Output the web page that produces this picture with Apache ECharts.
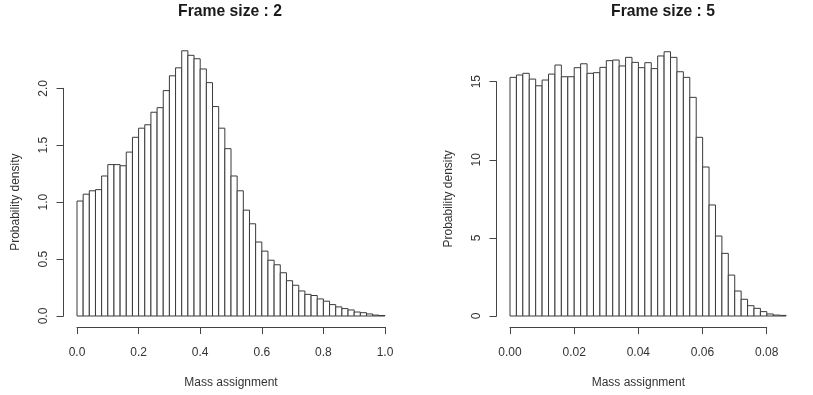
<!DOCTYPE html>
<html>
<head>
<meta charset="utf-8">
<script src="https://cdn.jsdelivr.net/npm/echarts@6/dist/echarts.min.js"></script>
<style>
html,body{margin:0;padding:0;background:#fff;}
#chart{width:813px;height:395px;}
</style>
</head>
<body>
<div id="chart"></div>
<script>
// ---- Data ----
var titles = ['Frame size : 2', 'Frame size : 5'];
var xAxisTitle = 'Mass assignment';
var yAxisTitle = 'Probability density';

// Left histogram: bins of width 0.02 from 0 to 1
var leftBinStart = 0;
var leftBinWidth = 0.02;
var leftDensity = [
  1.01, 1.07, 1.10, 1.11, 1.23, 1.33, 1.33, 1.32, 1.44, 1.57,
  1.65, 1.68, 1.79, 1.83, 1.98, 2.11, 2.18, 2.33, 2.29, 2.26,
  2.17, 2.05, 1.84, 1.65, 1.47, 1.23, 1.10, 0.93, 0.81, 0.65,
  0.57, 0.49, 0.45, 0.38, 0.31, 0.27, 0.22, 0.19, 0.18, 0.15,
  0.13, 0.10, 0.08, 0.065, 0.053, 0.035, 0.029, 0.018, 0.008, 0.004
];
var leftXTicks = ['0.0', '0.2', '0.4', '0.6', '0.8', '1.0'];
var leftYTicks = ['0.0', '0.5', '1.0', '1.5', '2.0'];

// Right histogram: bins of width 0.002 from 0 to 0.086
var rightBinStart = 0;
var rightBinWidth = 0.002;
var rightDensity = [
  15.28, 15.43, 15.54, 15.17, 14.74, 15.11, 15.49, 16.07, 15.32, 15.32,
  15.90, 16.15, 15.54, 15.58, 15.92, 16.35, 16.39, 16.01, 16.56, 16.24,
  15.90, 16.22, 15.84, 16.65, 16.92, 16.56, 15.64, 15.28, 14.00, 11.44,
  9.54, 7.11, 5.12, 4.01, 2.62, 1.60, 1.07, 0.66, 0.49, 0.28,
  0.13, 0.06, 0.04
];
var rightXTicks = ['0.00', '0.02', '0.04', '0.06', '0.08'];
var rightYTicks = ['0', '5', '10', '15'];

function toBins(start, width, dens) {
  return dens.map(function (d, i) {
    return [start + i * width, start + (i + 1) * width, d];
  });
}

var FONT = 'Liberation Sans, Arial, sans-serif';
var AXIS_COLOR = '#444';
var TEXT_COLOR = '#333';

function renderBar(params, api) {
  var p0 = api.coord([api.value(0), api.value(2)]);
  var p1 = api.coord([api.value(1), 0]);
  return {
    type: 'rect',
    shape: { x: p0[0], y: p0[1], width: p1[0] - p0[0], height: p1[1] - p0[1] },
    style: { fill: '#fff', stroke: '#3a3a3a', lineWidth: 1 }
  };
}

function shownXAxis(gridIndex, max, interval, labels) {
  return {
    gridIndex: gridIndex, type: 'value', min: 0, max: max, interval: interval,
    offset: 11, position: 'bottom',
    axisLine: { show: true, onZero: false, lineStyle: { color: AXIS_COLOR, width: 1 } },
    axisTick: { show: true, length: 7, lineStyle: { color: AXIS_COLOR } },
    axisLabel: {
      margin: 20, color: TEXT_COLOR, fontSize: 12, fontFamily: FONT,
      formatter: function (v, i) { return labels[i]; }
    },
    splitLine: { show: false },
    name: xAxisTitle, nameLocation: 'middle', nameGap: 50,
    nameTextStyle: { color: TEXT_COLOR, fontSize: 12, fontFamily: FONT }
  };
}

function shownYAxis(gridIndex, max, interval, labels) {
  return {
    gridIndex: gridIndex, type: 'value', min: 0, max: max, interval: interval,
    offset: 13.5, position: 'left',
    axisLine: { show: true, onZero: false, lineStyle: { color: AXIS_COLOR, width: 1 } },
    axisTick: { show: true, length: 7, lineStyle: { color: AXIS_COLOR } },
    axisLabel: {
      margin: 14, rotate: 90, color: TEXT_COLOR, fontSize: 12, fontFamily: FONT,
      formatter: function (v, i) { return labels[i]; }
    },
    splitLine: { show: false },
    name: yAxisTitle, nameLocation: 'middle', nameGap: 42, nameRotate: 90,
    nameTextStyle: { color: TEXT_COLOR, fontSize: 12, fontFamily: FONT }
  };
}

function hiddenAxis(gridIndex, max) {
  return { gridIndex: gridIndex, type: 'value', min: 0, max: max, show: false, splitLine: { show: false } };
}

var chart = echarts.init(document.getElementById('chart'), null, { renderer: 'canvas' });

var option = {
  animation: false,
  backgroundColor: '#fff',
  title: [
    { text: titles[0], left: 230, top: 4, padding: 0, textAlign: 'center',
      textStyle: { fontSize: 15.7, fontWeight: 'bold', color: '#1a1a1a', fontFamily: FONT } },
    { text: titles[1], left: 663, top: 4, padding: 0, textAlign: 'center',
      textStyle: { fontSize: 15.7, fontWeight: 'bold', color: '#1a1a1a', fontFamily: FONT } }
  ],
  grid: [
    // left data grid
    { left: 77, right: 428, top: 42.8, bottom: 79 },
    // left axis grid
    { left: 77, right: 428, top: 88.3, bottom: 79 },
    // right data grid
    { left: 510, right: 26.9, top: 50.5, bottom: 79 },
    // right axis grid
    { left: 510, right: 46.3, top: 81.7, bottom: 79 }
  ],
  xAxis: [
    hiddenAxis(0, leftBinStart + leftDensity.length * leftBinWidth),
    shownXAxis(1, 1.0, 0.2, leftXTicks),
    hiddenAxis(2, rightBinStart + rightDensity.length * rightBinWidth),
    shownXAxis(3, 0.08, 0.02, rightXTicks)
  ],
  yAxis: [
    hiddenAxis(0, 2.4),
    shownYAxis(1, 2.0, 0.5, leftYTicks),
    hiddenAxis(2, 17),
    shownYAxis(3, 15, 5, rightYTicks)
  ],
  series: [
    { type: 'custom', xAxisIndex: 0, yAxisIndex: 0, renderItem: renderBar,
      data: toBins(leftBinStart, leftBinWidth, leftDensity), encode: { x: [0, 1], y: 2 } },
    { type: 'custom', xAxisIndex: 2, yAxisIndex: 2, renderItem: renderBar,
      data: toBins(rightBinStart, rightBinWidth, rightDensity), encode: { x: [0, 1], y: 2 } }
  ]
};
chart.setOption(option);
</script>
</body>
</html>
